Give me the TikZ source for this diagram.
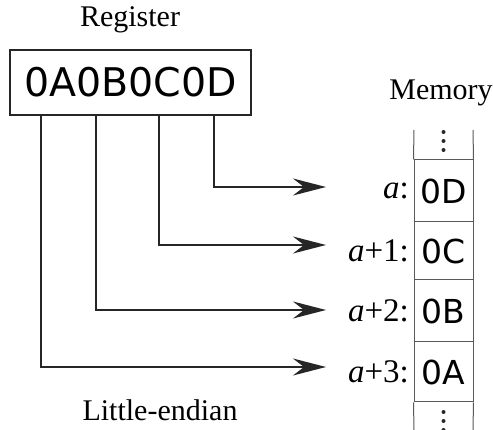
\documentclass[tikz,border=0pt]{standalone}
\usepackage{fontspec}
\setmainfont{Liberation Serif}
\newfontfamily\dv{DejaVu Sans}
\usetikzlibrary{arrows.meta}
\tikzset{
  conn/.style={draw=black!85, line width=1.8pt, -{Stealth[length=33pt,width=17pt,inset=11pt]}},
  cell/.style={draw=black!65, line width=1pt, minimum width=59pt, inner sep=0pt, font=\dv\fontsize{33}{33}\selectfont},
  serif/.style={font=\fontsize{30}{30}\selectfont, inner sep=0pt},
  addr/.style={font=\fontsize{33}{33}\selectfont, inner sep=0pt, anchor=east},
  memline/.style={draw=black!65, line width=1pt},
  dot/.style={circle, fill=black!85, minimum size=4pt, inner sep=0pt},
}
\begin{document}
\begin{tikzpicture}[x=1pt,y=-1pt]
\useasboundingbox[fill=white] (0,0) rectangle (493,430);
% register
\node[draw=black!85, line width=1.6pt, minimum width=241pt, minimum height=65pt, inner sep=0pt,
      font=\dv\fontsize{39.5}{39.5}\selectfont] (reg) at (130.5,82.5) {0A0B0C0D};
\node[serif] (regtitle) at (130,20) {Register};
\node[serif] (memtitle) at (441,93) {Memory};
\node[serif] (caption) at (160,410) {Little-endian};
% memory cells
\node[cell, minimum height=62pt] (cD) at (443.5,191) {0D};
\node[cell, minimum height=58pt] (cC) at (443.5,251) {0C};
\node[cell, minimum height=62pt] (cB) at (443.5,311) {0B};
\node[cell, minimum height=60pt] (cA) at (443.5,372) {0A};
\coordinate (topL) at (414,130);
\coordinate (topR) at (473,130);
\coordinate (botL) at (414,430);
\coordinate (botR) at (473,430);
\draw[memline] (cD.north west) -- (topL) (cD.north east) -- (topR);
\draw[memline] (cA.south west) -- (botL) (cA.south east) -- (botR);
\node[dot] (d1) at (443.5,132) {};
\node[dot] (d2) at (443.5,141) {};
\node[dot] (d3) at (443.5,150) {};
\node[dot] (d4) at (443.5,412) {};
\node[dot] (d5) at (443.5,421) {};
\node[dot] (d6) at (443.5,430) {};
% address labels
\node[addr] (aD) at (409,191) {\textit{a}:};
\node[addr] (aC) at (409,251) {\textit{a}+1:};
\node[addr] (aB) at (409,311) {\textit{a}+2:};
\node[addr] (aA) at (409,372) {\textit{a}+3:};
% arrow targets
\coordinate (tD) at (326,187);
\coordinate (tC) at (326,245);
\coordinate (tB) at (326,310);
\coordinate (tA) at (326,367);
% connectors
\draw[conn] (reg.south west) ++(205,0) |- (tD);
\draw[conn] (reg.south west) ++(150,0) |- (tC);
\draw[conn] (reg.south west) ++(87,0) |- (tB);
\draw[conn] (reg.south west) ++(32,0) |- (tA);
\end{tikzpicture}
\end{document}
